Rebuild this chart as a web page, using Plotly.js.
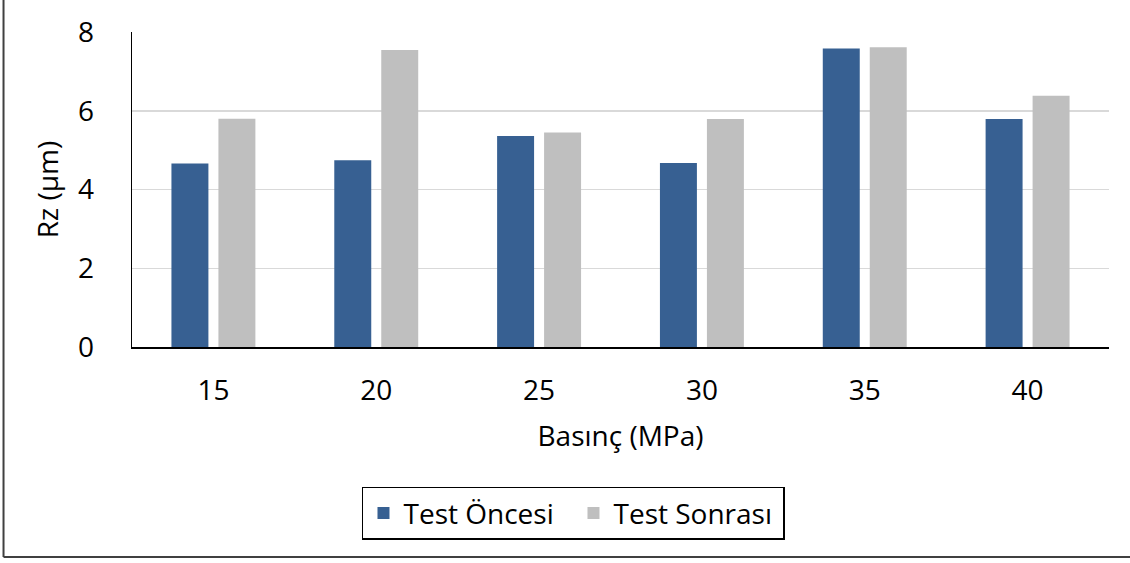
<!DOCTYPE html>
<html>
<head>
<meta charset="utf-8">
<script src="https://cdn.plot.ly/plotly-3.0.1.min.js"></script>
<style>
  html, body { margin: 0; padding: 0; background: #fff; }
  #chart { width: 1130px; height: 563px; }
</style>
</head>
<body>
<div id="chart"></div>
<script>
// Pressure levels (MPa)
const pressures = ['15', '20', '25', '30', '35', '40'];
// Surface roughness Rz (µm) before and after the test
const rzBefore = [4.66, 4.74, 5.36, 4.67, 7.58, 5.79];
const rzAfter  = [5.80, 7.54, 5.45, 5.79, 7.61, 6.38];
const yTicks = [0, 2, 4, 6, 8];

const FONT = 'Open Sans, Noto Sans, sans-serif';
const SIZE = 28;

const traces = [
  {
    type: 'bar', name: 'Test Öncesi',
    x: pressures, y: rzBefore,
    marker: { color: '#376092' },
    hoverinfo: 'x+y'
  },
  {
    type: 'bar', name: 'Test Sonrası',
    x: pressures, y: rzAfter,
    marker: { color: '#bfbfbf' },
    hoverinfo: 'x+y'
  }
];

const layout = {
  width: 1130, height: 563,
  margin: { l: 132, r: 21, t: 32, b: 216 },
  paper_bgcolor: '#fff', plot_bgcolor: '#fff',
  font: { family: FONT, size: SIZE, color: '#000' },
  barmode: 'group',
  bargap: 0.423,
  bargroupgap: 0.213,
  xaxis: {
    type: 'category',
    showline: true, linecolor: '#000', linewidth: 1.5,
    showgrid: false, zeroline: false,
    ticks: '', ticklabelstandoff: 18,
    tickfont: { family: FONT, size: SIZE },
    title: { text: 'Basınç (MPa)', standoff: 19, font: { family: FONT, size: SIZE } }
  },
  yaxis: {
    range: [0, 8],
    tickvals: yTicks,
    showline: true, linecolor: '#000', linewidth: 1.5,
    showgrid: true, gridcolor: '#d9d9d9', gridwidth: 1.5,
    zeroline: false,
    ticks: '', ticklabelstandoff: 31,
    tickfont: { family: FONT, size: SIZE },
    title: { text: 'Rz (µm)', standoff: 11, font: { family: FONT, size: SIZE } }
  },
  showlegend: true,
  legend: {
    orientation: 'h',
    xref: 'paper', x: 0.2354, xanchor: 'left',
    yref: 'paper', y: -0.444, yanchor: 'top',
    entrywidth: 165, entrywidthmode: 'pixels',
    bordercolor: '#000', borderwidth: 1.5,
    font: { family: FONT, size: SIZE },
    bgcolor: '#fff'
  },
  // Chart frame (left and bottom edges)
  shapes: [
    { type: 'line', xref: 'paper', yref: 'paper', x0: -0.1315, x1: -0.1315, y0: -0.667, y1: 1.11,
      line: { color: '#404040', width: 2 } },
    { type: 'line', xref: 'paper', yref: 'paper', x0: -0.1315, x1: 1.03, y0: -0.667, y1: -0.667,
      line: { color: '#404040', width: 2 } }
  ]
};

Plotly.newPlot('chart', traces, layout, { displayModeBar: false, staticPlot: true });
</script>
</body>
</html>
